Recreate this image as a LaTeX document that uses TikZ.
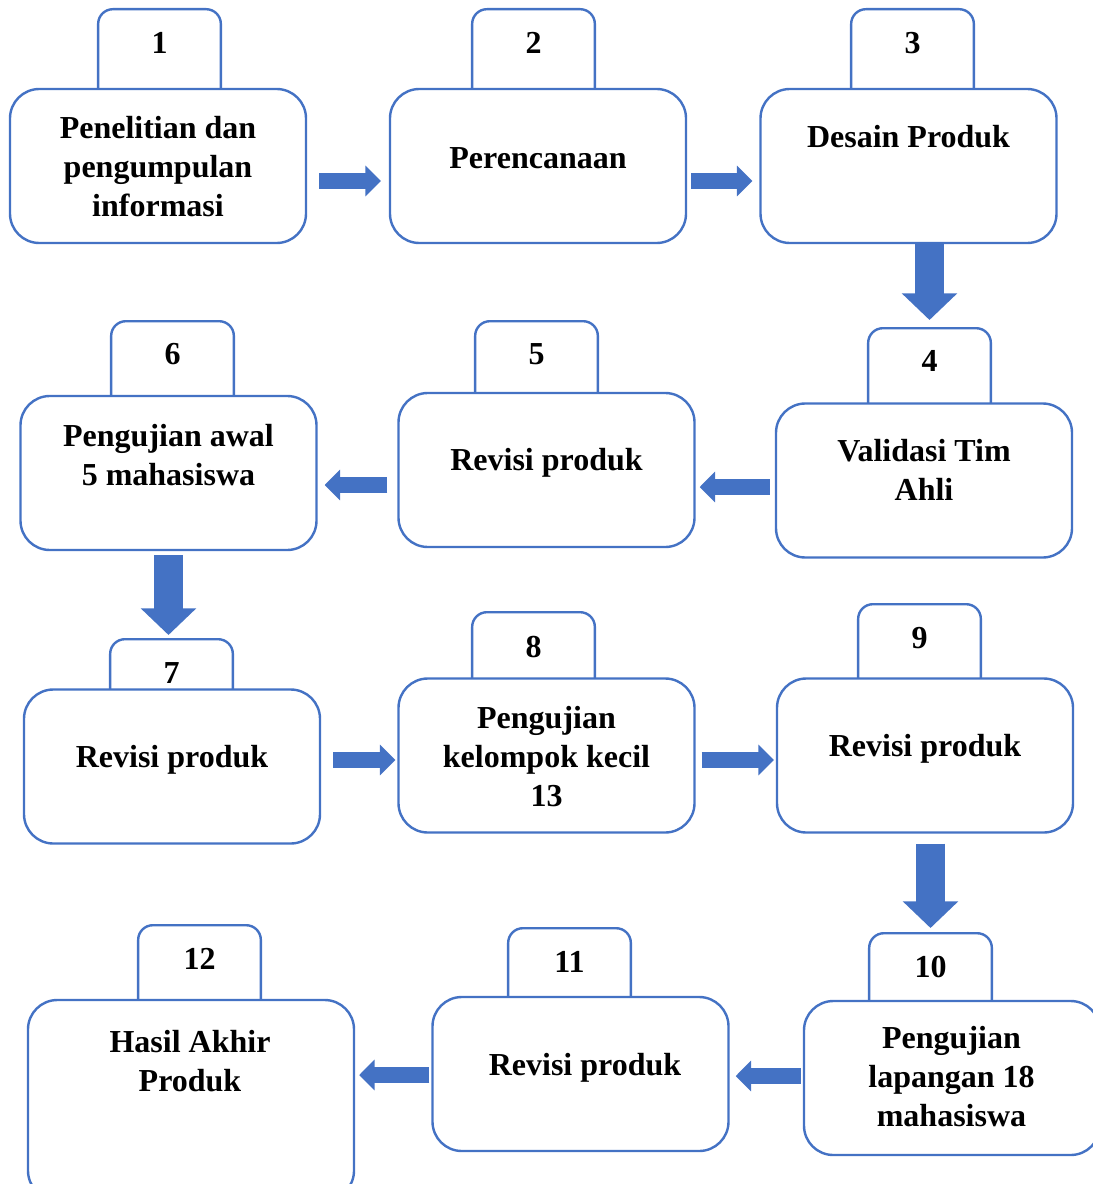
\documentclass[tikz,border=0pt]{standalone}
\usepackage{fontspec}
\setmainfont{Liberation Serif}
\usetikzlibrary{calc,arrows.meta}
\definecolor{birutepi}{HTML}{4472C4}

\begin{document}
\begin{tikzpicture}[x=0.75pt, y=-0.75pt,
  kotak/.style={draw=birutepi, line width=1.8pt, fill=white, rounded corners=22pt, minimum width=222pt, minimum height=115.5pt, inner sep=0pt},
  tab/.style={draw=birutepi, line width=1.8pt, fill=white, rounded corners=11pt, minimum width=92pt, minimum height=75pt, anchor=north, inner sep=0pt},
  teks/.style={font=\fontsize{24}{29.25}\selectfont\bfseries, align=center, inner sep=0pt},
  panah/.style={draw=birutepi, line width=11.5pt, -{Triangle[length=11.5pt, width=22.5pt]}},
  panahbawah/.style={draw=birutepi, line width=21.5pt, -{Triangle[length=20pt, width=40.5pt]}}]
\useasboundingbox (0,0) rectangle (1092,1184);

\node [tab] (t1) at (159.5,8) {};
\node [kotak] (b1) at (158,166) {};
\node [teks] (n1) at (159.5,43) {1};
\node [teks] (k1) at (158,167) {Penelitian dan\\pengumpulan\\informasi};

\node [tab] (t2) at (533.5,8) {};
\node [kotak] (b2) at (538,166) {};
\node [teks] (n2) at (533.5,43) {2};
\node [teks] (k2) at (538,158) {Perencanaan};

\node [tab] (t3) at (912.5,8) {};
\node [kotak] (b3) at (908.5,166) {};
\node [teks] (n3) at (912.5,43) {3};
\node [teks] (k3) at (908.5,137) {Desain Produk};

\node [tab] (t4) at (929.5,327) {};
\node [kotak] (b4) at (924,480.5) {};
\node [teks] (n4) at (929.5,361) {4};
\node [teks] (k4) at (924,470) {Validasi Tim\\Ahli};

\node [tab] (t5) at (536.5,320) {};
\node [kotak] (b5) at (546.5,470) {};
\node [teks] (n5) at (536.5,354) {5};
\node [teks] (k5) at (546.5,463) {Revisi produk};

\node [tab] (t6) at (172.5,320) {};
\node [kotak] (b6) at (168.5,473) {};
\node [teks] (n6) at (172.5,354) {6};
\node [teks] (k6) at (168.5,455.5) {Pengujian awal\\5 mahasiswa};

\node [tab] (t7) at (171.5,638) {};
\node [kotak] (b7) at (172,766.5) {};
\node [teks] (n7) at (171.5,673) {7};
\node [teks] (k7) at (172,760) {Revisi produk};

\node [tab] (t8) at (533.5,611) {};
\node [kotak] (b8) at (546.5,755.5) {};
\node [teks] (n8) at (533.5,647) {8};
\node [teks] (k8) at (546.5,757) {Pengujian\\kelompok kecil\\13};

\node [tab] (t9) at (919.5,603) {};
\node [kotak] (b9) at (925,755.5) {};
\node [teks] (n9) at (919.5,638) {9};
\node [teks] (k9) at (925,749) {Revisi produk};

\node [tab] (t10) at (930.5,932) {};
\node [kotak] (b10) at (952,1078) {};
\node [teks] (n10) at (930.5,967) {10};
\node [teks] (k10) at (951.5,1077) {Pengujian\\lapangan 18\\mahasiswa};

\node [tab] (t11) at (569.5,927) {};
\node [kotak] (b11) at (580.5,1074) {};
\node [teks] (n11) at (569.5,962) {11};
\node [teks] (k11) at (585,1068) {Revisi produk};

\node [tab] (t12) at (199.5,924) {};
\node [kotak, minimum width=244.5pt, minimum height=150pt] (b12) at (191,1100) {};
\node [teks] (n12) at (199.5,959) {12};
\node [teks] (k12) at (190,1061) {Hasil Akhir\\Produk};

\draw [panah] ($(b1.east)+(12,15)$) -- ($(b2.west)+(-8,15)$);
\draw [panah] ($(b2.east)+(4,15)$) -- ($(b3.west)+(-7,15)$);
\draw [panahbawah] (b3.south -| t4.north) -- ($(t4.north)+(0,-7)$);
\draw [panah] ($(b4.west)+(-5,6.5)$) -- ($(b5.east |- b4.west)+(4,6.5)$);
\draw [panah] ($(b5.west)+(-10,15)$) -- ($(b6.east |- b5.west)+(7,15)$);
\draw [panahbawah] ($(b6.south)+(0,4)$) -- ($(b6.south |- t7.north)+(0,-3)$);
\draw [panah] ($(b7.east |- b8.west)+(12,4.5)$) -- ($(b8.west)+(-2,4.5)$);
\draw [panah] ($(b8.east)+(6,4.5)$) -- ($(b9.west)+(-2,4.5)$);
\draw [panahbawah] ($(b9.south -| t10.north)+(0,10)$) -- ($(t10.north)+(0,-4)$);
\draw [panah] ($(b10.west)+(-2,-2)$) -- ($(b11.east |- b10.west)+(6,-2)$);
\draw [panah] ($(b11.west)+(-2,1)$) -- ($(b12.east |- b11.west)+(4,1)$);
\end{tikzpicture}
\end{document}
